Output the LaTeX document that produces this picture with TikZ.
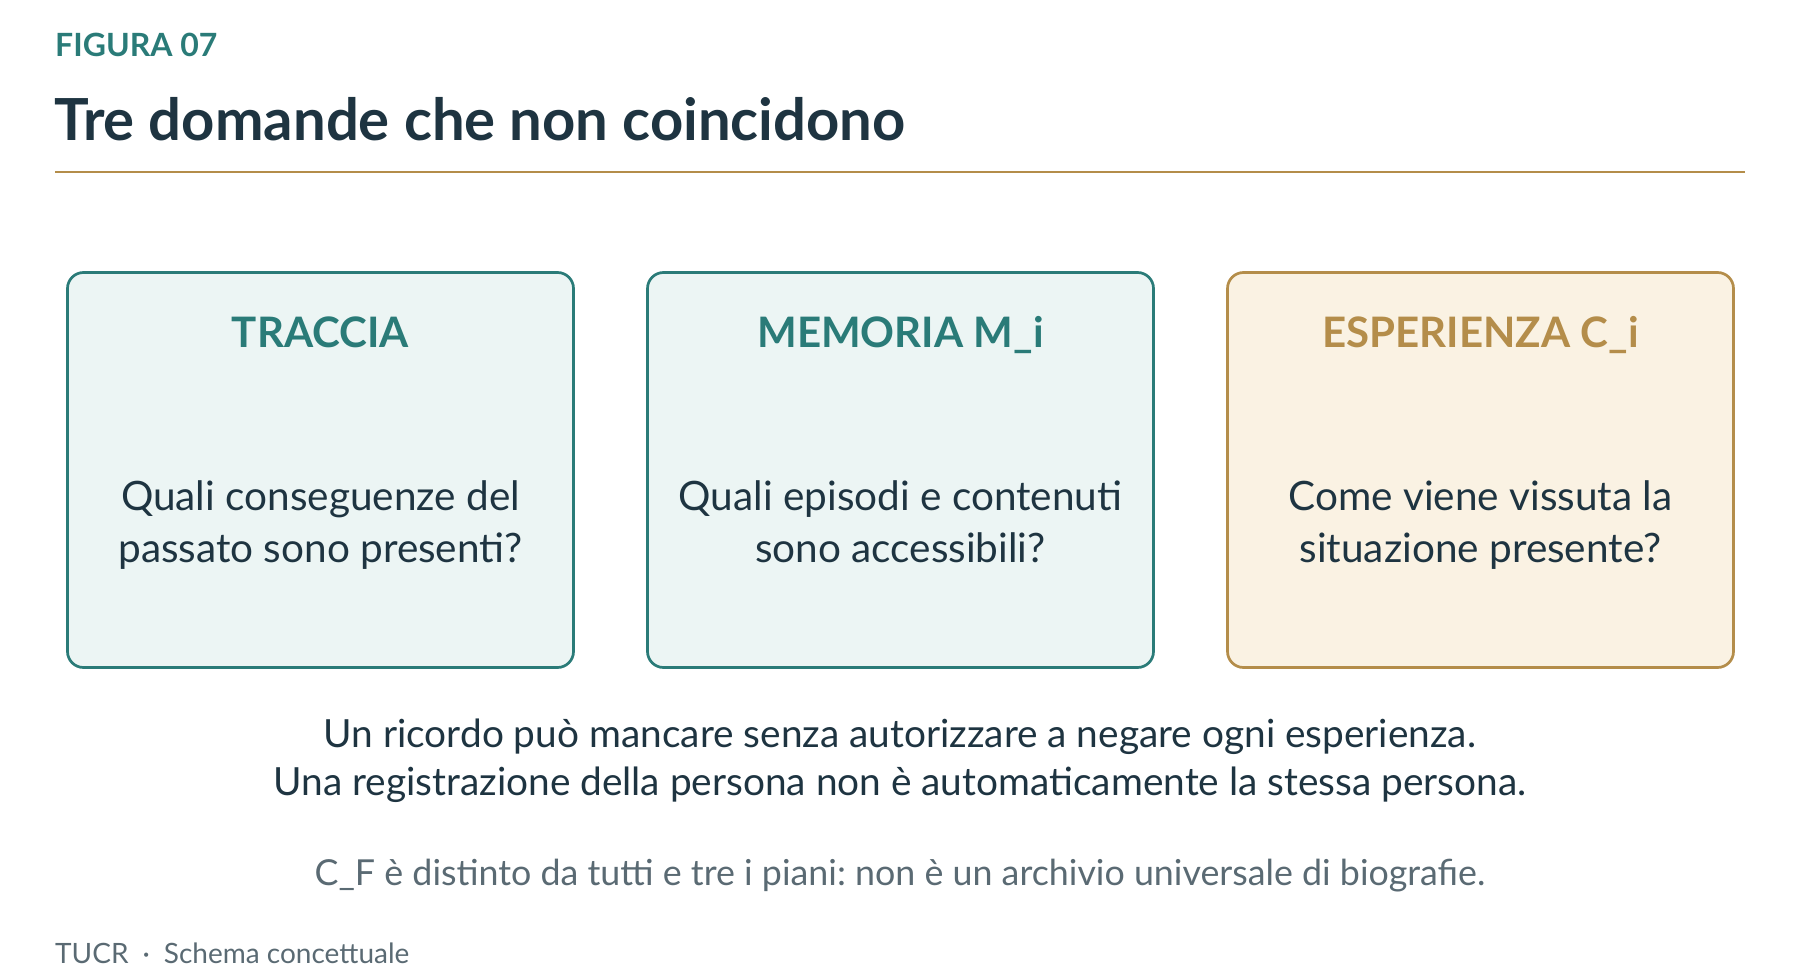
\documentclass[tikz,border=0pt]{standalone}
\usepackage{fontspec}
\setmainfont{Lato}
\usepackage{xcolor}
\usepackage{tikz}
\usetikzlibrary{positioning}
\frenchspacing

\definecolor{figteal}{HTML}{2A7B78}
\definecolor{figgold}{HTML}{B48D4A}
\definecolor{figink}{HTML}{1E3441}
\definecolor{figgrey}{HTML}{5A6A73}
\definecolor{tealfill}{HTML}{ECF5F4}
\definecolor{goldfill}{HTML}{FAF2E3}

\tikzset{
    panel/.style 2 args={draw=#1, fill=#2, rectangle, rounded corners=16pt, line width=2.7pt,
        minimum width=506pt, minimum height=395pt, inner sep=0pt},
    head/.style={anchor=base, inner sep=0pt, font=\fontsize{42}{50}\selectfont\bfseries},
    question/.style={anchor=base, inner sep=0pt, align=center, text=figink,
        font=\fontsize{40.5}{52}\selectfont},
    note/.style={anchor=base, inner sep=0pt, align=center, text=figink,
        font=\fontsize{38.8}{48}\selectfont},
    aside/.style={anchor=base, inner sep=0pt, text=figgrey, font=\fontsize{35.8}{42}\selectfont},
}

\begin{document}
\begin{tikzpicture}[x=1pt, y=-1pt]
    \useasboundingbox (0,0) rectangle (1800,980);

    % Header
    \node[anchor=base west, inner sep=0pt, text=figteal, font=\fontsize{32}{40}\selectfont\bfseries] (kicker) at (55,56) {FIGURA 07};
    \node[anchor=base west, inner sep=0pt, text=figink, font=\fontsize{58}{70}\selectfont\bfseries] (title) at (54,140) {Tre domande che non coincidono};
    \coordinate (ruleL) at (55,172);
    \coordinate (ruleR) at (1745,172);
    \draw[figgold, line width=2.5pt] (ruleL) -- (ruleR);

    % Panels
    \node[panel={figteal}{tealfill}] (trace) at (320.5,470) {};
    \node[panel={figteal}{tealfill}] (memory) at (900.5,470) {};
    \node[panel={figgold}{goldfill}] (experience) at (1480.5,470) {};

    \node[head, text=figteal] (traceH) at (320.5,347) {TRACCIA};
    \node[head, text=figteal] (memoryH) at (900.5,347) {MEMORIA M\_i};
    \node[head, text=figgold] (experienceH) at (1480.5,347) {ESPERIENZA C\_i};

    % base anchor = baseline of the last line
    \node[question] (traceQ) at (320.5,562) {Quali conseguenze del\\passato sono presenti?};
    \node[question] (memoryQ) at (900.5,562) {Quali episodi e contenuti\\sono accessibili?};
    \node[question] (experienceQ) at (1480.5,562) {Come viene vissuta la\\situazione presente?};

    % Notes
    \node[note] (notes) at (900,795) {Un ricordo può mancare senza autorizzare a negare ogni esperienza.\\Una registrazione della persona non è automaticamente la stessa persona.};
    \node[aside] (cf) at (900,885) {C\_F è distinto da tutti e tre i piani: non è un archivio universale di biografie.};

    % Footer
    \node[anchor=base west, inner sep=0pt, text=figgrey, font=\fontsize{28}{34}\selectfont] (footer) at (55,963) {TUCR\hspace{0.5em}·\hspace{0.5em}Schema concettuale};
\end{tikzpicture}
\end{document}
